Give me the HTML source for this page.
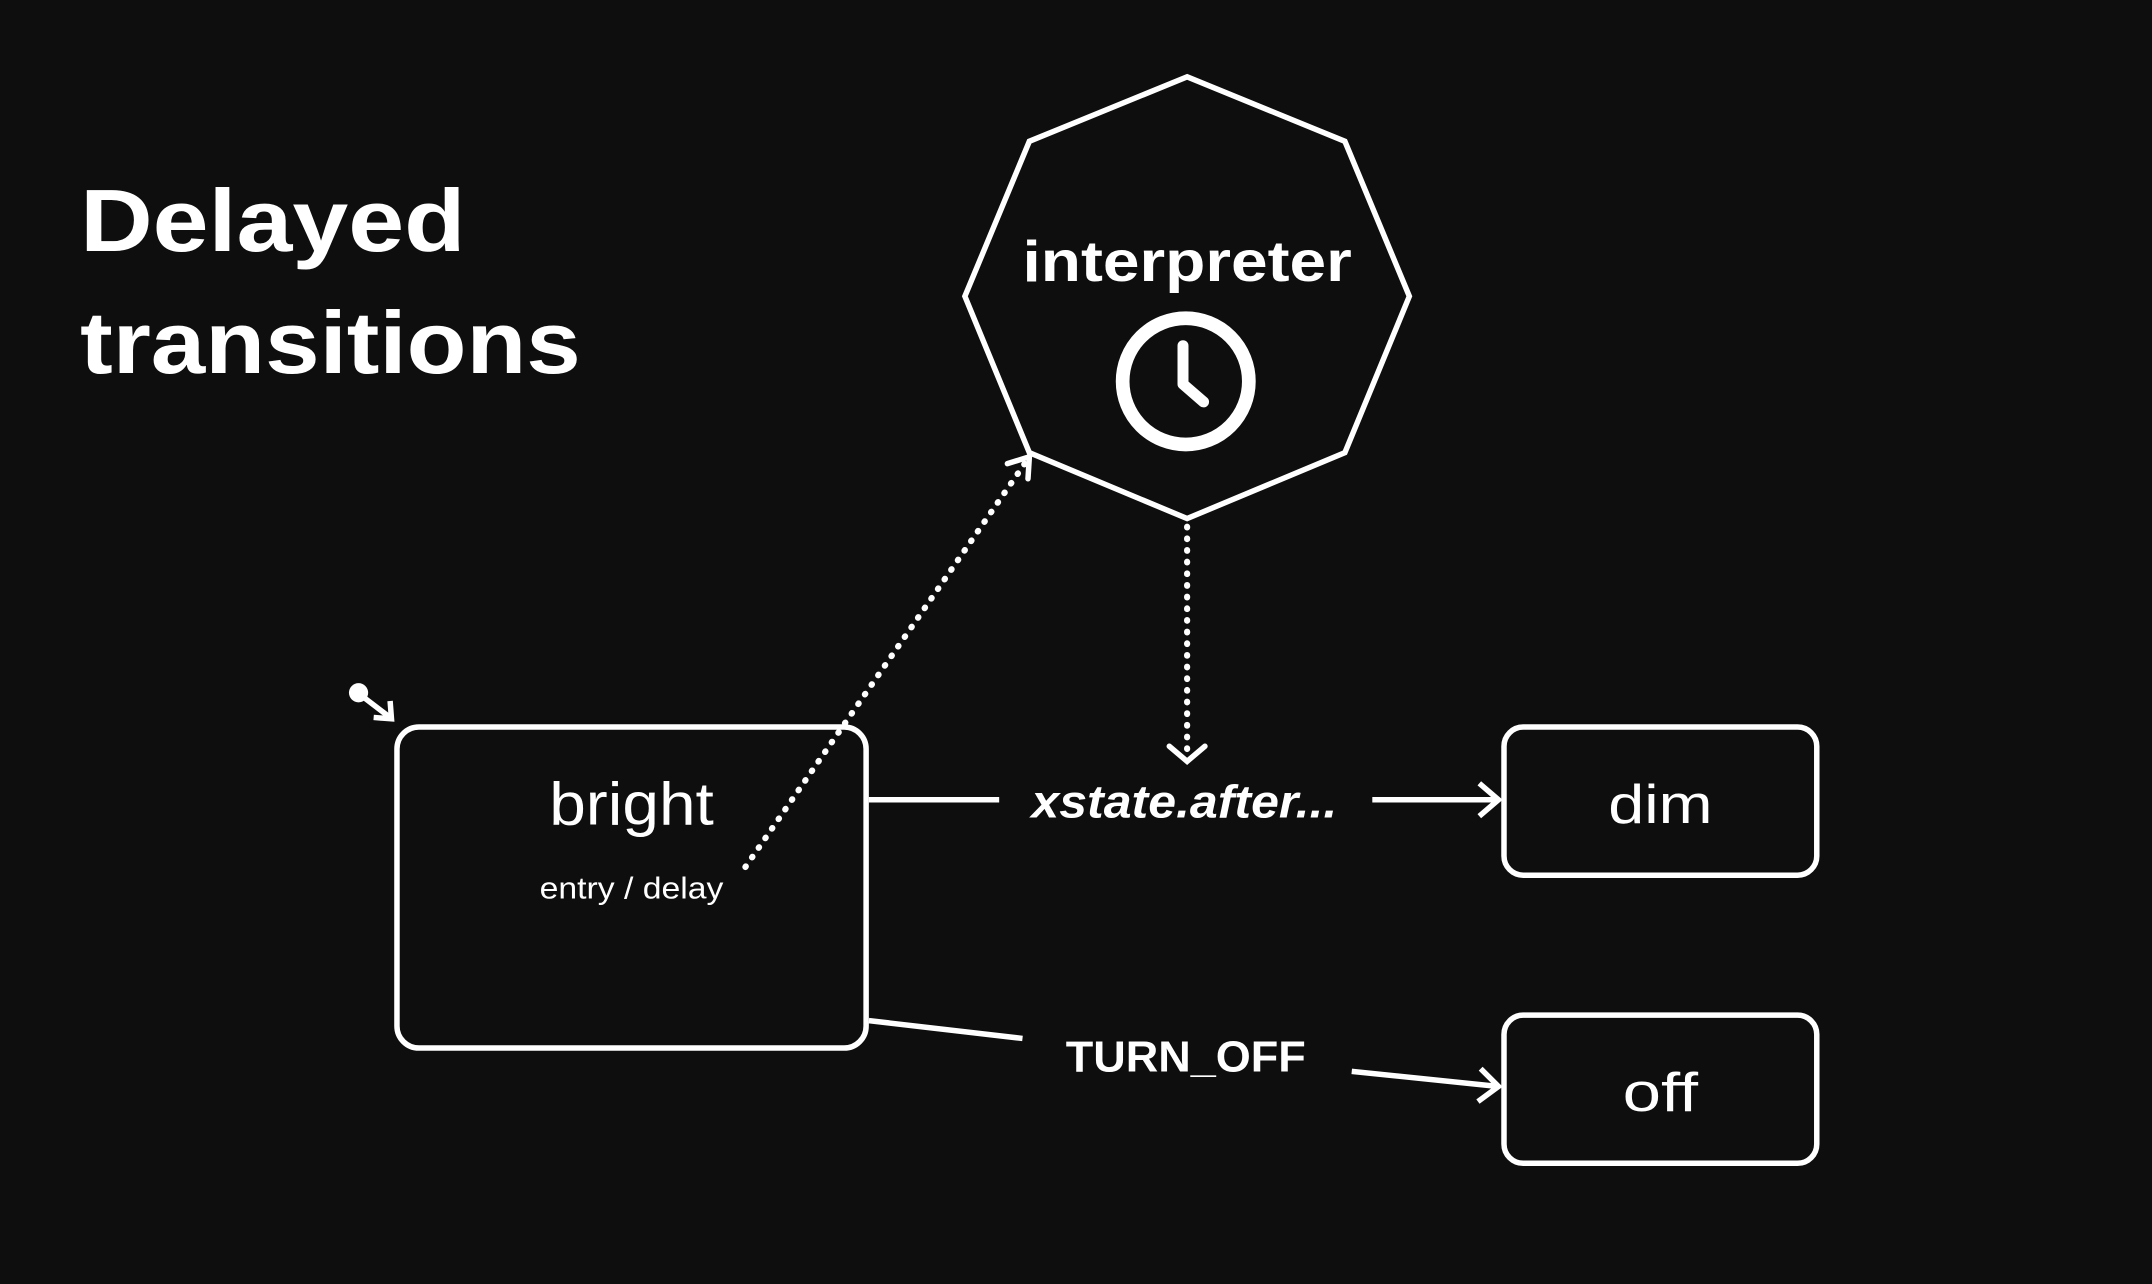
<!DOCTYPE html>
<html><head><meta charset="utf-8"><style>
html,body{margin:0;padding:0;background:#0e0e0e;}
svg{display:block;}
text{font-family:"Liberation Sans",sans-serif;fill:#fff;}
</style></head><body>
<svg width="2152" height="1284" viewBox="0 0 1568 936" xmlns="http://www.w3.org/2000/svg">
<rect width="1568" height="936" fill="#0e0e0e"/>
<text x="58" y="183" font-size="64" font-weight="bold" textLength="281" lengthAdjust="spacingAndGlyphs">Delayed</text>
<text x="58" y="272" font-size="64" font-weight="bold" textLength="365" lengthAdjust="spacingAndGlyphs">transitions</text>
<polygon points="865,56 980,103 1027,216 980,330 865,378 750,330 703,216 750,103" fill="none" stroke="#fff" stroke-width="4"/>
<text x="865" y="205" font-size="42" font-weight="bold" text-anchor="middle" textLength="240" lengthAdjust="spacingAndGlyphs">interpreter</text>
<circle cx="864" cy="278" r="46" fill="none" stroke="#fff" stroke-width="10"/>
<polyline points="862,252 862,280 877,293" fill="none" stroke="#fff" stroke-width="8" stroke-linecap="round" stroke-linejoin="round"/>
<line x1="543" y1="632" x2="748" y2="336" stroke="#fff" stroke-width="4.5" stroke-dasharray="0.5 8" stroke-linecap="round"/>
<polyline points="734,338 750,333 749,349" fill="none" stroke="#fff" stroke-width="4" stroke-linecap="round"/>
<line x1="865" y1="384" x2="865" y2="552" stroke="#fff" stroke-width="4.5" stroke-dasharray="0.5 8" stroke-linecap="round"/>
<polyline points="852,544 865,555 878,544" fill="none" stroke="#fff" stroke-width="4" stroke-linecap="round"/>
<rect x="289" y="530" width="342" height="234" rx="16" fill="none" stroke="#fff" stroke-width="4"/>
<text x="460" y="601" font-size="44" text-anchor="middle" textLength="120" lengthAdjust="spacingAndGlyphs">bright</text>
<text x="460" y="655" font-size="22" text-anchor="middle" textLength="134" lengthAdjust="spacingAndGlyphs">entry / delay</text>
<circle cx="261" cy="505" r="7" fill="#fff"/>
<line x1="263" y1="507" x2="284" y2="523" stroke="#fff" stroke-width="4"/>
<polyline points="272,523 285,524 284,511" fill="none" stroke="#fff" stroke-width="4"/>
<line x1="633" y1="583" x2="728" y2="583" stroke="#fff" stroke-width="4"/>
<text x="863" y="596" font-size="34" font-weight="bold" font-style="italic" text-anchor="middle" textLength="223" lengthAdjust="spacingAndGlyphs">xstate.after...</text>
<line x1="1000" y1="583" x2="1092" y2="583" stroke="#fff" stroke-width="4"/>
<polyline points="1078,571 1092,583 1078,595" fill="none" stroke="#fff" stroke-width="4"/>
<rect x="1096" y="530" width="228" height="108" rx="14" fill="none" stroke="#fff" stroke-width="4"/>
<text x="1210" y="600" font-size="40" text-anchor="middle" textLength="76" lengthAdjust="spacingAndGlyphs">dim</text>
<line x1="633" y1="744" x2="745" y2="757" stroke="#fff" stroke-width="4"/>
<text x="864" y="781" font-size="32" font-weight="bold" text-anchor="middle" textLength="175" lengthAdjust="spacingAndGlyphs">TURN_OFF</text>
<line x1="985" y1="781" x2="1092" y2="792" stroke="#fff" stroke-width="4"/>
<polyline points="1079,779 1092,792 1077,803" fill="none" stroke="#fff" stroke-width="4"/>
<rect x="1096" y="740" width="228" height="108" rx="14" fill="none" stroke="#fff" stroke-width="4"/>
<text x="1210" y="810" font-size="40" text-anchor="middle" textLength="55" lengthAdjust="spacingAndGlyphs">off</text>
</svg>
</body></html>
